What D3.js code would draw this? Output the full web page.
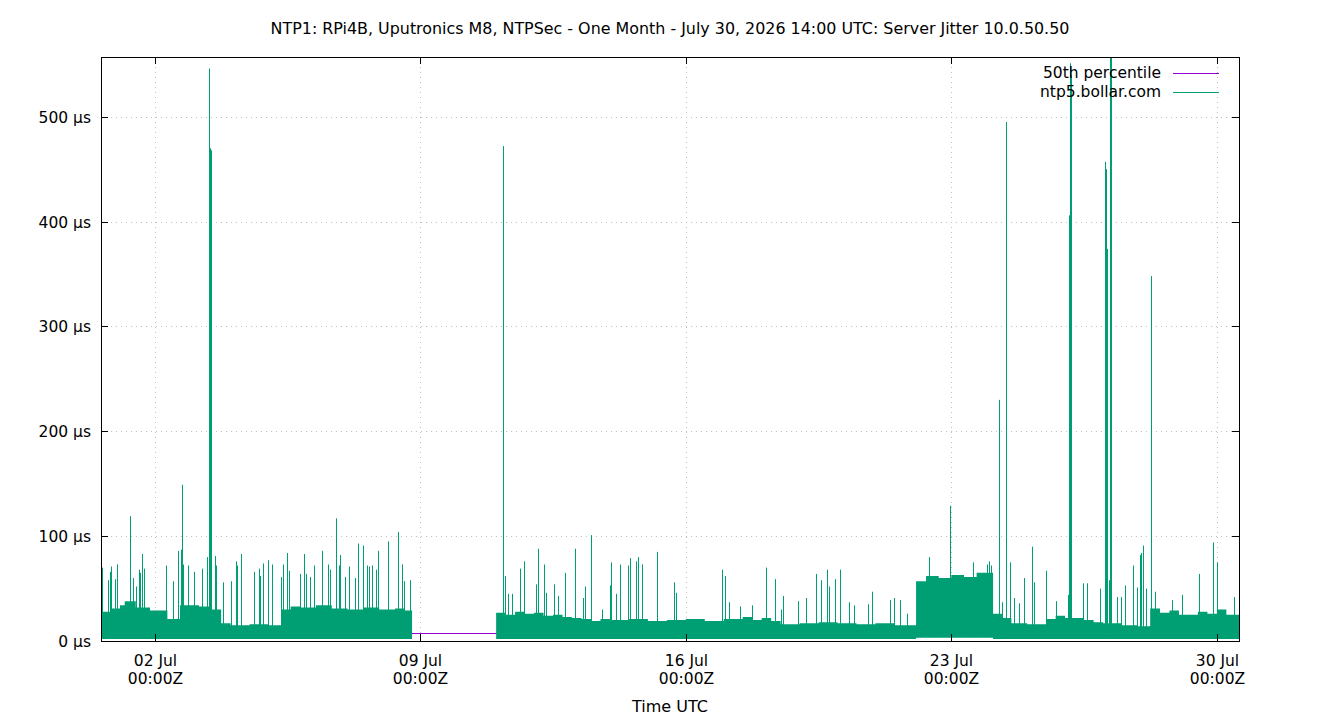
<!DOCTYPE html>
<html>
<head>
<meta charset="utf-8">
<script src="https://cdn.jsdelivr.net/npm/d3@7"></script>
<style>
  body { margin: 0; background: #fff; }
  svg { display: block; font-family: "DejaVu Sans", sans-serif; }
</style>
</head>
<body>
<svg id="chart" width="1340" height="720"></svg>
<script>
// window start, all times below are hours since this
var startTime = new Date('2026-06-30T14:00:00Z')
var spanHours = 720

var xTicks = ['2026-07-02T00:00:00Z', '2026-07-09T00:00:00Z', '2026-07-16T00:00:00Z',
  '2026-07-23T00:00:00Z', '2026-07-30T00:00:00Z']
var yTicks = [0, 100, 200, 300, 400, 500]

// 50th percentile (µs)
var median = 7.6

// dense part of the jitter trace: step starts (hours), low and high edge (µs); null = no data
var bandHours = [0, 6, 12, 15, 22, 31, 42, 50, 62, 70, 76, 82, 94, 106, 114, 120, 126, 136,
  146, 156, 166, 176, 186, 192, 196.8,
  250, 256, 262, 268, 274, 280, 286, 292, 298, 304, 310, 316, 322, 334, 346, 358, 370, 382, 394,
  406, 412, 418, 424, 430, 442, 454, 466, 478, 490, 502,
  515.7, 522, 530, 538, 546, 554, 564.4, 570, 576, 586, 598, 604, 610, 622, 628, 634, 646,
  656, 663.8, 670, 676, 682, 694, 700, 706, 712]
var bandLo = [2, 2, 2, 2, 2, 2, 2, 2, 2, 2, 2, 2, 2, 2, 2, 2, 2, 2,
  2, 2, 2, 2, 2, 2, null,
  2, 2, 2, 2, 2, 2, 2, 2, 2, 2, 2, 2, 2, 2, 2, 2, 2, 2, 2,
  2, 2, 2, 2, 2, 2, 2, 2, 2, 2, 2,
  3, 3, 3, 3, 3, 3, 2, 2, 2, 2, 2, 2, 2, 2, 2, 2, 2,
  2, 2, 2, 2, 2, 2, 2, 2, 2]
var bandHi = [28, 31, 34, 38, 32, 29, 21, 34, 33, 30, 17, 15, 16, 15, 30, 33, 32, 34,
  31, 30, 32, 30, 31, 29, null,
  27, 25, 28, 26, 27, 24, 25, 23, 22, 21, 19, 21, 20, 21, 19, 20, 21, 19, 21,
  23, 20, 22, 19, 16, 17, 18, 17, 16, 17, 15,
  57, 62, 60, 63, 61, 65, 26, 22, 17, 16, 21, 24, 22, 20, 18, 17, 15,
  14, 31, 27, 29, 25, 28, 26, 30, 25]

// single samples sticking out of the band: time (hours) and value (µs)
var spikeHours = [0.4, 4.4, 5.7, 6.3, 8.9, 10.1, 18.5, 20.4, 22.3, 24.0, 24.9, 26.2, 27.4,
  41.3, 45.7, 48.7, 50.8, 51.4, 52.1, 54.9, 59.0, 64.1, 66.9, 68.3, 69.0, 69.6, 72.1, 73.0,
  77.4, 82.3, 85.6, 86.1, 88.8, 97.0, 100.2, 100.8, 102.7, 105.9, 108.4, 114.1, 115.0,
  117.5, 119.1, 125.7, 128.6, 129.9, 132.4, 134.6, 140.0, 143.4, 145.1, 148.7, 150.4,
  151.0, 154.4, 157.1, 160.5, 162.8, 165.6, 168.1, 169.8, 171.3, 174.2, 175.1, 181.8,
  187.7, 190.6, 191.9, 195.3,
  254.4, 255.8, 257.5, 260.2, 265.3, 267.5, 275.4, 276.7, 280.5, 281.6, 286.4, 289.2,
  293.8, 299.7, 305.2, 306.4, 309.9, 317.2, 322.3, 322.7, 326.0, 328.6, 333.3, 334.9,
  338.3, 339.6, 342.5, 352.0, 362.8, 364.0, 392.7, 394.6, 397.5, 404.5, 411.9, 420.6,
  426.3, 430.1, 431.7, 440.8, 445.9, 452.6, 455.8, 459.2, 460.8, 464.2, 467.8, 473.5,
  476.6, 485.5, 488.0, 499.4, 501.6, 505.7, 510.0, 524.1, 537.0, 551.9, 560.4, 562.1,
  563.3, 568.4, 569.9, 572.3, 575.2, 577.9, 580.9, 584.2, 589.1, 590.5, 598.1, 604.5,
  612.0, 612.7, 613.1, 613.7, 621.2, 624.1, 632.3, 635.0, 635.6, 636.8, 638.0, 638.6,
  639.2, 639.3, 643.1,
  645.6, 647.9, 653.2, 655.5, 657.2, 658.0, 659.5, 661.4, 664.6, 667.1, 677.5, 683.8,
  694.9, 703.8, 706.0, 716.9]
var spikeValues = [70, 58, 66, 71, 59, 73, 119, 60, 52, 68, 65, 83, 69,
  72, 57, 86, 87, 149, 73, 72, 66, 69, 80, 546, 470, 468, 81, 72,
  56, 57, 76, 72, 83, 66, 69, 62, 74, 77, 73, 61, 73,
  84, 67, 64, 83, 64, 61, 72, 86, 73, 68, 117, 72,
  82, 61, 71, 60, 93, 91, 72, 71, 72, 68, 86, 95,
  104, 73, 57, 58,
  472, 62, 45, 45, 69, 76, 54, 88, 73, 46, 54, 43,
  65, 88, 41, 52, 101, 30, 53, 75, 45, 73, 72, 79,
  76, 80, 73, 85, 56, 46, 68, 62, 37, 33, 34, 70,
  59, 30, 43, 38, 41, 64, 58, 68, 52, 59, 68, 37,
  34, 35, 47, 39, 41, 39, 26, 80, 129, 75, 73, 76,
  72, 230, 37, 495, 75, 41, 36, 60, 90, 56, 67, 38,
  44, 406, 551, 540, 55, 55, 50, 457, 450, 374, 58, 600,
  590, 372, 42,
  42, 53, 72, 51, 82, 84, 91, 50, 348, 47, 39, 44,
  64, 94, 75, 42]

var seriesNames = ['50th percentile', 'ntp5.bollar.com']
var seriesColors = ['#9400d3', '#009e73']

var margin = {top: 57, right: 101, bottom: 79, left: 101},
    width = 1340 - margin.left - margin.right,
    height = 720 - margin.top - margin.bottom

function atHour(h) { return new Date(startTime.getTime() + h * 3600e3) }
function crisp(v) { return Math.round(v) + 0.5 }

var x = d3.scaleUtc()
  .domain([startTime, atHour(spanHours)])
  .range([0, width])

var y = d3.scaleLinear()
  .domain([0, 557])
  .range([height, 0])

var svg = d3.select('#chart')

svg.append('text')
  .attr('x', 670)
  .attr('y', 34)
  .attr('text-anchor', 'middle')
  .style('font-size', '15.9px')
  .text('NTP1: RPi4B, Uputronics M8, NTPSec - One Month - July 30, 2026 14:00 UTC: Server Jitter 10.0.50.50')

svg.append('defs').append('clipPath')
  .attr('id', 'plot-clip')
  .append('rect')
  .attr('width', width)
  .attr('height', height)

var g = svg.append('g')
  .attr('transform', 'translate(' + margin.left + ',' + margin.top + ')')

// grid
var xTickDates = xTicks.map(function(d) {return new Date(d)})
g.append('g')
  .selectAll('line')
  .data(xTickDates)
  .enter()
  .append('line')
  .attr('x1', function(d) {return crisp(x(d))})
  .attr('x2', function(d) {return crisp(x(d))})
  .attr('y1', 0)
  .attr('y2', height)
  .attr('stroke', '#c0c0c0')
  .attr('stroke-dasharray', '1,4')

g.append('g')
  .selectAll('line')
  .data(yTicks.slice(1))
  .enter()
  .append('line')
  .attr('x1', 0)
  .attr('x2', width)
  .attr('y1', function(d) {return crisp(y(d))})
  .attr('y2', function(d) {return crisp(y(d))})
  .attr('stroke', '#c0c0c0')
  .attr('stroke-dasharray', '1,4')

var plot = g.append('g').attr('clip-path', 'url(#plot-clip)')

// median line
plot.append('line')
  .attr('x1', 0)
  .attr('x2', width)
  .attr('y1', crisp(y(median)))
  .attr('y2', crisp(y(median)))
  .attr('stroke', seriesColors[0])

// band
var band = bandHours.map(function(h, i) {
  return {t: atHour(h), lo: bandLo[i], hi: bandHi[i]}
})
band.push({t: atHour(spanHours), lo: bandLo[bandLo.length - 1], hi: bandHi[bandHi.length - 1]})

var area = d3.area()
  .defined(function(d) {return d.hi !== null})
  .curve(d3.curveStepAfter)
  .x(function(d) {return x(d.t)})
  .y0(function(d) {return y(d.lo)})
  .y1(function(d) {return y(d.hi)})

// a defined step area needs the gap edge as its own point
var bandPts = []
band.forEach(function(d, i) {
  bandPts.push(d)
  if (i + 1 < band.length && d.hi !== null && band[i + 1].hi === null) {
    bandPts.push({t: band[i + 1].t, lo: d.lo, hi: d.hi})
  }
})

plot.append('path')
  .datum(bandPts)
  .attr('d', area)
  .attr('fill', seriesColors[1])

// spikes
plot.append('g')
  .selectAll('line')
  .data(spikeHours.map(function(h, i) {return {t: atHour(h), v: spikeValues[i]}}))
  .enter()
  .append('line')
  .attr('x1', function(d) {return crisp(x(d.t))})
  .attr('x2', function(d) {return crisp(x(d.t))})
  .attr('y1', y(4))
  .attr('y2', function(d) {return y(d.v)})
  .attr('stroke', seriesColors[1])

// frame
g.append('rect')
  .attr('x', 0.5)
  .attr('y', 0.5)
  .attr('width', width)
  .attr('height', height)
  .attr('fill', 'none')
  .attr('stroke', '#000')

// ticks, inward on both sides
var yAxis = g.append('g')
yTicks.forEach(function(v) {
  var yy = crisp(y(v))
  yAxis.append('line').attr('x1', 0).attr('x2', 7).attr('y1', yy).attr('y2', yy).attr('stroke', '#000')
  yAxis.append('line').attr('x1', width - 7).attr('x2', width).attr('y1', yy).attr('y2', yy).attr('stroke', '#000')
  yAxis.append('text')
    .attr('x', -10)
    .attr('y', yy + 5)
    .attr('text-anchor', 'end')
    .style('font-size', '15.5px')
    .text(v + ' µs')
})

var xAxis = g.append('g')
var fmtDay = d3.utcFormat('%d %b')
xTickDates.forEach(function(d) {
  var xx = crisp(x(d))
  xAxis.append('line').attr('x1', xx).attr('x2', xx).attr('y1', height).attr('y2', height - 7).attr('stroke', '#000')
  xAxis.append('line').attr('x1', xx).attr('x2', xx).attr('y1', 0).attr('y2', 7).attr('stroke', '#000')
  var t = xAxis.append('text')
    .attr('text-anchor', 'middle')
    .style('font-size', '15.5px')
  t.append('tspan').attr('x', xx).attr('y', height + 25).text(fmtDay(d))
  t.append('tspan').attr('x', xx).attr('y', height + 43).text('00:00Z')
})

svg.append('text')
  .attr('x', 670)
  .attr('y', 712)
  .attr('text-anchor', 'middle')
  .style('font-size', '16px')
  .text('Time UTC')

// legend
var legend = g.append('g')
seriesNames.forEach(function(name, i) {
  var ly = 16 + i * 19
  legend.append('text')
    .attr('x', 1161 - margin.left)
    .attr('y', ly + 5)
    .attr('text-anchor', 'end')
    .style('font-size', '15.5px')
    .text(name)
  legend.append('line')
    .attr('x1', 1173 - margin.left)
    .attr('x2', 1219 - margin.left)
    .attr('y1', ly + 0.5)
    .attr('y2', ly + 0.5)
    .attr('stroke', seriesColors[i])
})
</script>
</body>
</html>
